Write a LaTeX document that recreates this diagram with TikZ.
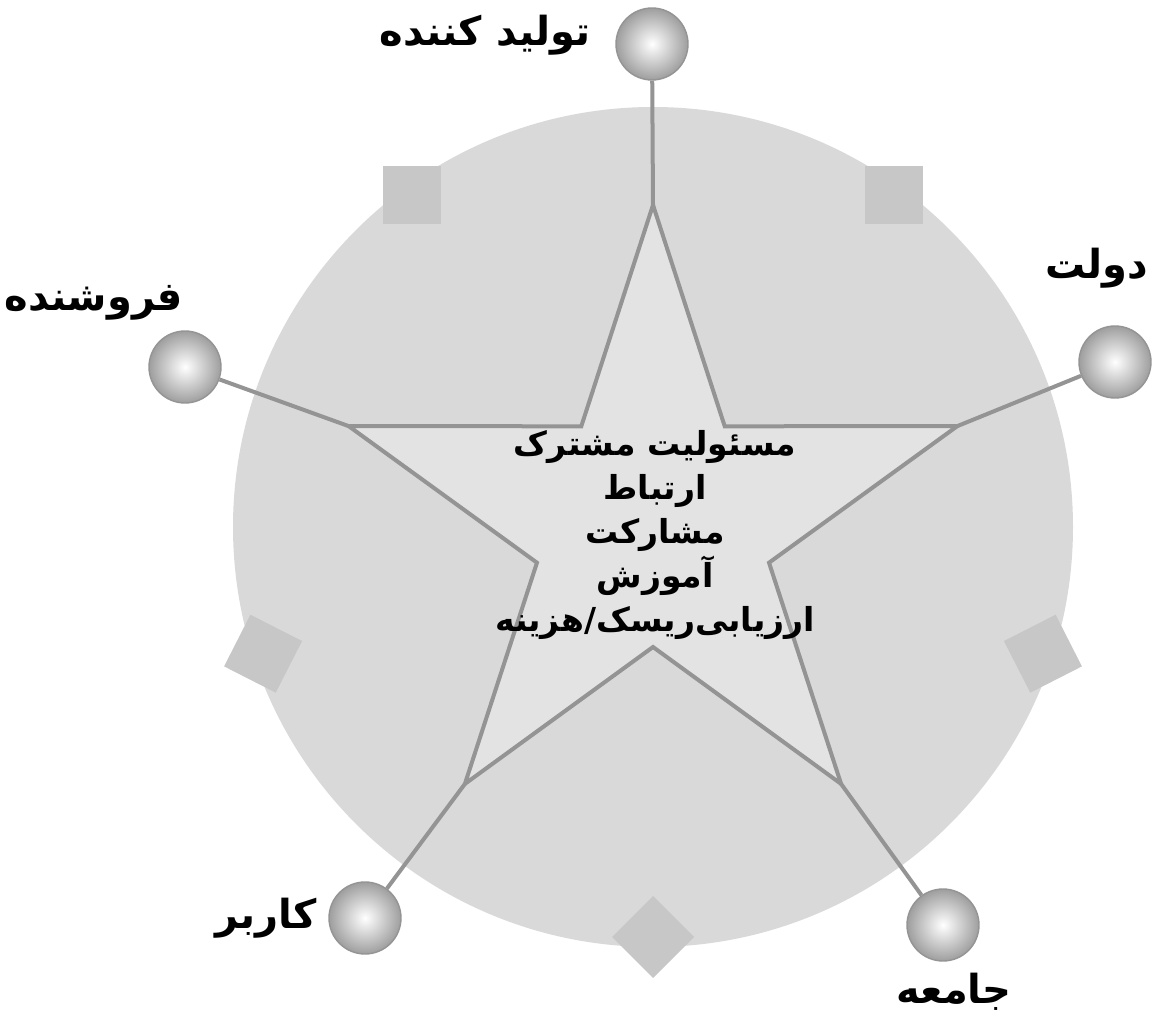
\documentclass[tikz,border=0pt]{standalone}
\usepackage{fontspec}
\usetikzlibrary{calc}
\newfontfamily\arabicfont[Script=Arabic]{DejaVu Sans}
\TeXXeTstate=1
\begin{document}
\begin{tikzpicture}[x=0.5pt,y=-0.5pt,
  conn/.style={draw=black!42,line width=2pt},
  ball/.style={circle,minimum size=36pt,inner sep=0pt,draw=black!42,line width=0.7pt,inner color=white,outer color=black!38},
  lbl/.style={font=\arabicfont\bfseries\fontsize{20}{24}\selectfont,text=black,inner sep=0pt},
  midtext/.style={font=\arabicfont\bfseries\fontsize{16.5}{22}\selectfont,align=center,text=black,inner sep=0pt},
  sq/.style={fill=black!22},
]
\useasboundingbox (0,0) rectangle (1152,1021);
\coordinate (c) at (653,525);
\coordinate (cc) at (653,527);
% disc
\fill[black!15] (cc) circle (420);
% squares on the rim (position angle / corner angle)
\foreach \a/\b in {-126/-135,-54/-45,18/18,90/90,162/162}{
  \fill[sq] ($(cc)+(\a:410)+(\b:41)$) -- ($(cc)+(\a:410)+(\b+90:41)$) -- ($(cc)+(\a:410)+(\b+180:41)$) -- ($(cc)+(\a:410)+(\b+270:41)$) -- cycle;
}
% star points
\foreach \i/\a in {1/-90,2/-18,3/54,4/126,5/198}{
  \coordinate (o\i) at ($(c)+(\a:320)$);
  \coordinate (n\i) at ($(c)+(\a+36:122)$);
}
\filldraw[fill=black!11,draw=black!42,line width=2pt,line join=miter]
  (o1) -- (n1) -- (o2) -- (n2) -- (o3) -- (n3) -- (o4) -- (n4) -- (o5) -- (n5) -- cycle;
% spheres
\node[ball] (s1) at (652,44) {};
\node[ball] (s2) at (1115,362) {};
\node[ball] (s3) at (943,925) {};
\node[ball] (s4) at (365,918) {};
\node[ball] (s5) at (185,367) {};
% connectors
\draw[conn] (o1) -- (s1);
\draw[conn] (o2) -- (s2);
\draw[conn] (o3) -- (s3);
\draw[conn] (o4) -- (s4);
\draw[conn] (o5) -- (s5);
% labels
\node[lbl] (t1) at (485,35) {\beginR تولید کننده\endR};
\node[lbl] (t2) at (1097,268) {\beginR دولت\endR};
\node[lbl] (t3) at (954,992) {\beginR جامعه\endR};
\node[lbl] (t4) at (266,918) {\beginR کاربر\endR};
\node[lbl] (t5) at (94,303) {\beginR فروشنده\endR};
\node[midtext] (mid) at (655,535) {\beginR مسئولیت مشترک\endR\\ \beginR ارتباط\endR\\ \beginR مشارکت\endR\\ \beginR آموزش\endR\\ \beginR ارزیابی‌ریسک/هزینه\endR};
\end{tikzpicture}
\end{document}
